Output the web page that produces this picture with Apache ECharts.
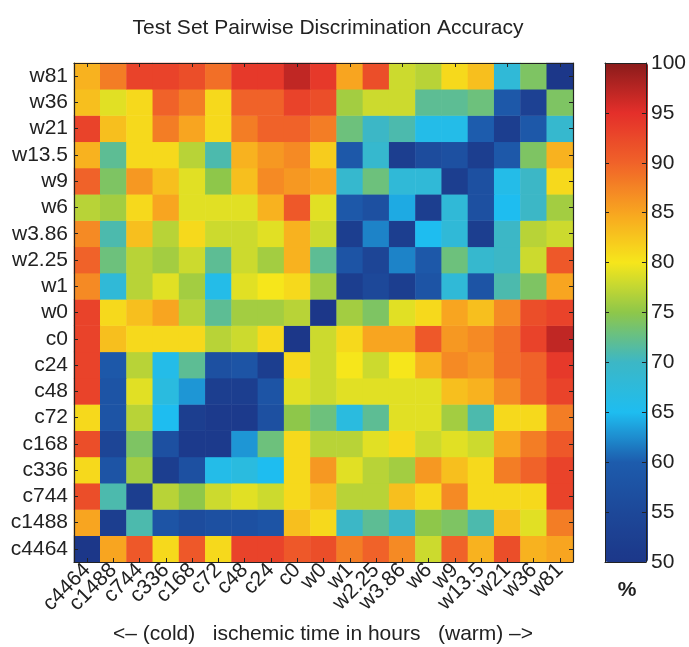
<!DOCTYPE html>
<html>
<head>
<meta charset="utf-8">
<script src="https://cdn.jsdelivr.net/npm/echarts@6/dist/echarts.min.js"></script>
<style>
  html, body { margin: 0; padding: 0; background: #fff; }
  #main { width: 689px; height: 647px; }
</style>
</head>
<body>
<div id="main"></div>
<script>
// categories, same order on both axes (y goes bottom -> top)
var timeLabels = ['c4464', 'c1488', 'c744', 'c336', 'c168', 'c72', 'c48', 'c24', 'c0', 'w0',
  'w1', 'w2.25', 'w3.86', 'w6', 'w9', 'w13.5', 'w21', 'w36', 'w81'];

// accuracy (%) per row, columns follow timeLabels
var rowC4464 = [50, 85, 91, 81, 91, 81, 93, 93, 91, 92, 88, 90, 87, 78, 90, 84, 92, 84, 85];
var rowC1488 = [85, 52, 71, 58, 56, 57, 57, 58, 83, 81, 70, 72, 70, 75, 74, 71, 83, 79, 88];
var rowC744 = [92, 71, 52, 77, 75, 78, 79, 78, 81, 83, 77, 77, 83, 81, 87, 81, 81, 81, 93];
var rowC336 = [81, 58, 76, 52, 57, 66, 67, 65, 81, 86, 79, 77, 76, 86, 83, 81, 88, 90, 93];
var rowC168 = [92, 54, 74, 57, 51, 51, 63, 73, 81, 77, 77, 79, 81, 78, 79, 78, 85, 88, 91];
var rowC72 = [81, 58, 77, 65, 52, 51, 51, 57, 75, 73, 67, 72, 79, 79, 76, 71, 81, 81, 88];
var rowC48 = [93, 58, 79, 67, 63, 52, 52, 58, 79, 78, 79, 79, 79, 79, 83, 84, 87, 90, 93];
var rowC24 = [93, 59, 77, 66, 72, 57, 58, 52, 81, 78, 80, 78, 80, 84, 87, 86, 89, 90, 94];
var rowC0 = [93, 83, 81, 81, 81, 77, 78, 81, 50, 78, 81, 85, 85, 91, 86, 87, 89, 93, 97];
var rowW0 = [93, 81, 83, 85, 77, 72, 76, 76, 77, 50, 76, 74, 79, 81, 85, 83, 87, 92, 93];
var rowW1 = [87, 68, 77, 79, 76, 66, 79, 80, 81, 76, 52, 55, 52, 58, 68, 58, 71, 74, 85];
var rowW225 = [90, 73, 77, 76, 78, 72, 78, 76, 84, 72, 58, 54, 62, 59, 73, 69, 70, 78, 91];
var rowW386 = [87, 71, 83, 77, 81, 78, 78, 79, 84, 78, 52, 62, 52, 65, 68, 52, 70, 77, 78];
var rowW6 = [77, 76, 81, 85, 79, 79, 79, 84, 91, 79, 59, 57, 64, 52, 68, 57, 65, 70, 76];
var rowW9 = [90, 74, 86, 83, 79, 75, 83, 87, 86, 85, 69, 73, 68, 68, 52, 57, 66, 70, 81];
var rowW135 = [84, 72, 81, 81, 77, 71, 84, 86, 87, 82, 59, 69, 52, 56, 57, 52, 59, 74, 84];
var rowW21 = [93, 83, 81, 88, 85, 81, 88, 90, 90, 88, 73, 70, 71, 66, 66, 60, 52, 59, 69];
var rowW36 = [83, 79, 81, 90, 88, 81, 90, 90, 93, 92, 76, 78, 78, 72, 72, 73, 59, 53, 74];
var rowW81 = [84, 88, 93, 93, 92, 89, 94, 94, 97, 94, 85, 92, 78, 77, 81, 83, 68, 74, 50];

var colorTicks = [50, 55, 60, 65, 70, 75, 80, 85, 90, 95, 100];

var rows = [rowC4464, rowC1488, rowC744, rowC336, rowC168, rowC72, rowC48, rowC24, rowC0, rowW0,
  rowW1, rowW225, rowW386, rowW6, rowW9, rowW135, rowW21, rowW36, rowW81];

var cells = [];
rows.forEach(function (row, yi) {
  row.forEach(function (v, xi) {
    cells.push([xi, yi, v]);
  });
});

var font = 'Liberation Sans, Arial, Helvetica, sans-serif';
var ink = '#222';
var fs = 21;

var chart = echarts.init(document.getElementById('main'), null, { renderer: 'canvas' });

// main plot + colorbar frame
var plot = { left: 74, top: 63, width: 499, height: 499 };
var bar = { left: 605, top: 63, width: 43, height: 499 };

function catAxis(pos, labels) {
  return {
    type: 'category',
    data: timeLabels,
    position: pos,
    gridIndex: 0,
    z: 10,
    axisLine: { show: true, onZero: false, lineStyle: { color: ink, width: 1.2 } },
    axisTick: { show: true, inside: true, alignWithLabel: true, length: 4, lineStyle: { color: ink } },
    axisLabel: labels || { show: false },
    splitLine: { show: false }
  };
}

function barEdge(pos) {
  return {
    type: 'value', gridIndex: 1, min: 0, max: 1, position: pos, z: 10,
    axisLine: { show: true, onZero: false, lineStyle: { color: ink } },
    axisTick: { show: false }, axisLabel: { show: false }, splitLine: { show: false }
  };
}

var option = {
  backgroundColor: '#fff',
  animation: false,
  title: {
    text: 'Test Set Pairwise Discrimination Accuracy',
    left: 323, top: 13, textAlign: 'center',
    textStyle: { fontFamily: font, fontSize: fs, fontWeight: 'normal', color: ink }
  },
  grid: [
    { left: plot.left, top: plot.top, width: plot.width, height: plot.height },
    { left: bar.left, top: bar.top, width: bar.width, height: bar.height }
  ],
  xAxis: [
    catAxis('bottom', {
      show: true, rotate: 45, margin: 5, interval: 0,
      fontFamily: font, fontSize: fs, color: ink
    }),
    catAxis('top'),
    barEdge('bottom'),
    barEdge('top')
  ],
  yAxis: [
    catAxis('left', {
      show: true, margin: 6, interval: 0,
      fontFamily: font, fontSize: fs, color: ink
    }),
    catAxis('right'),
    { type: 'value', gridIndex: 1, min: 50, max: 100, interval: 5, position: 'left', z: 10,
      axisLine: { show: true, onZero: false, lineStyle: { color: ink } },
      axisTick: { show: true, inside: true, length: 4, lineStyle: { color: ink } },
      axisLabel: { show: false }, splitLine: { show: false } },
    { type: 'value', gridIndex: 1, min: 50, max: 100, interval: 5, position: 'right', z: 10,
      axisLine: { show: true, onZero: false, lineStyle: { color: ink } },
      axisTick: { show: true, inside: true, length: 4, lineStyle: { color: ink } },
      axisLabel: {
        show: true, margin: 5, fontFamily: font, fontSize: fs, color: ink,
        customValues: colorTicks
      },
      splitLine: { show: false } }
  ],
  visualMap: {
    type: 'continuous',
    min: 50, max: 100,
    calculable: false,
    hoverLink: false,
    orient: 'vertical',
    left: bar.left, top: bar.top,
    itemWidth: bar.width, itemHeight: bar.height,
    padding: 0,
    text: null,
    seriesIndex: 0,
    z: 1,
    inRange: {
      color: ['#1c3789', '#1d4899', '#1d5cad', '#1ebdf0', '#3cb7c6', '#8ec74a',
        '#f6e61b', '#f8a520', '#f06229', '#e42f2a', '#8a1b1b']
    }
  },
  graphic: [
    { type: 'text', x: 323, y: 634,
      style: { text: '<\u2013 (cold)   ischemic time in hours   (warm) \u2013>',
        align: 'center', verticalAlign: 'middle',
        fontFamily: font, fontSize: fs, fill: ink } },
    { type: 'text', x: 627, y: 590,
      style: { text: '%', align: 'center', verticalAlign: 'middle',
        fontFamily: font, fontSize: fs, fontWeight: 'bold', fill: ink } }
  ],
  series: [{
    type: 'heatmap',
    xAxisIndex: 0, yAxisIndex: 0,
    data: cells,
    progressive: 0,
    itemStyle: { borderWidth: 0 },
    emphasis: { disabled: true }
  }]
};

chart.setOption(option);
</script>
</body>
</html>
